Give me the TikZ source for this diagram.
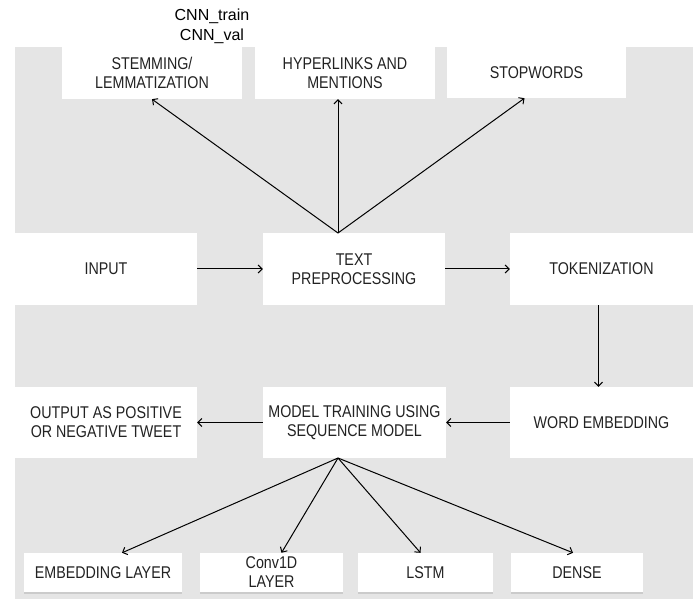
\documentclass[tikz,border=0pt]{standalone}
\usepackage{fontspec}
\setmainfont{Liberation Sans}
\newfontfamily\boxfont[FakeStretch=0.84]{Liberation Sans}
\usetikzlibrary{arrows.meta,shadows}

\definecolor{panel}{RGB}{229,229,229}
\definecolor{ink}{RGB}{34,34,34}

\tikzset{
  stage/.style={fill=white, text=ink, font=\boxfont\fontsize{17}{19}\selectfont,
    align=center, inner sep=0pt},
  layerbox/.style={stage, drop shadow={shadow xshift=0pt, shadow yshift=-2pt, opacity=0.25}},
  flow/.style={-{Straight Barb[length=4pt,width=8pt]}, line width=1pt, black},
}

\begin{document}
\begin{tikzpicture}[x=1pt, y=-1pt]
    \useasboundingbox (0,0) rectangle (698,601);
    \fill[panel] (15,47) rectangle (693,599);

    \node[font=\fontsize{16}{20}\selectfont, align=center] (files) at (212,26) {CNN\_train\\CNN\_val};

    % preprocessing steps
    \node[stage, minimum width=180pt, minimum height=52pt] (stem) at (152,73) {STEMMING/\\LEMMATIZATION};
    \node[stage, minimum width=180pt, minimum height=52pt] (hyper) at (345,73) {HYPERLINKS AND\\MENTIONS};
    \node[stage, minimum width=179pt, minimum height=51pt] (stop) at (536.5,72.5) {STOPWORDS};

    % main pipeline
    \node[stage, minimum width=182pt, minimum height=72pt] (input) at (106,269) {INPUT};
    \node[stage, minimum width=182pt, minimum height=72pt] (text) at (354,269) {TEXT\\PREPROCESSING};
    \node[stage, minimum width=183pt, minimum height=72pt] (token) at (601.5,269) {TOKENIZATION};

    \node[stage, minimum width=182pt, minimum height=71pt] (output) at (106,422.5) {OUTPUT AS POSITIVE\\OR NEGATIVE TWEET};
    \node[stage, minimum width=183pt, minimum height=71pt] (model) at (354.5,422.5) {MODEL TRAINING USING\\SEQUENCE MODEL};
    \node[stage, minimum width=183pt, minimum height=71pt] (word) at (601.5,422.5) {WORD EMBEDDING};

    % model layers
    \node[layerbox, minimum width=158pt, minimum height=39pt] (emb) at (103,572.5) {EMBEDDING LAYER};
    \node[layerbox, minimum width=143pt, minimum height=39pt] (conv) at (271.5,572.5) {Conv1D\\LAYER};
    \node[layerbox, minimum width=135pt, minimum height=39pt] (lstm) at (425.5,572.5) {LSTM};
    \node[layerbox, minimum width=132pt, minimum height=39pt] (dense) at (577,572.5) {DENSE};

    \coordinate (split) at (338,233);
    \coordinate (merge) at (338,458);

    \draw[flow] (split) -- (stem.south);
    \draw[flow] (split) -- (split |- hyper.south);
    \draw[flow] (split) -- ([xshift=-12pt]stop.south);

    \draw[flow] (input.east) -- (text.west);
    \draw[flow] (text.east) -- (token.west);
    \draw[flow] ([xshift=-3pt]token.south) -- ([xshift=-3pt]word.north);
    \draw[flow] (word.west) -- (model.east);
    \draw[flow] (model.west) -- (output.east);

    \draw[flow] (merge) -- ([xshift=19pt]emb.north);
    \draw[flow] (merge) -- ([xshift=10pt]conv.north);
    \draw[flow] (merge) -- ([xshift=-5pt]lstm.north);
    \draw[flow] (merge) -- ([xshift=-4pt]dense.north);
\end{tikzpicture}
\end{document}
